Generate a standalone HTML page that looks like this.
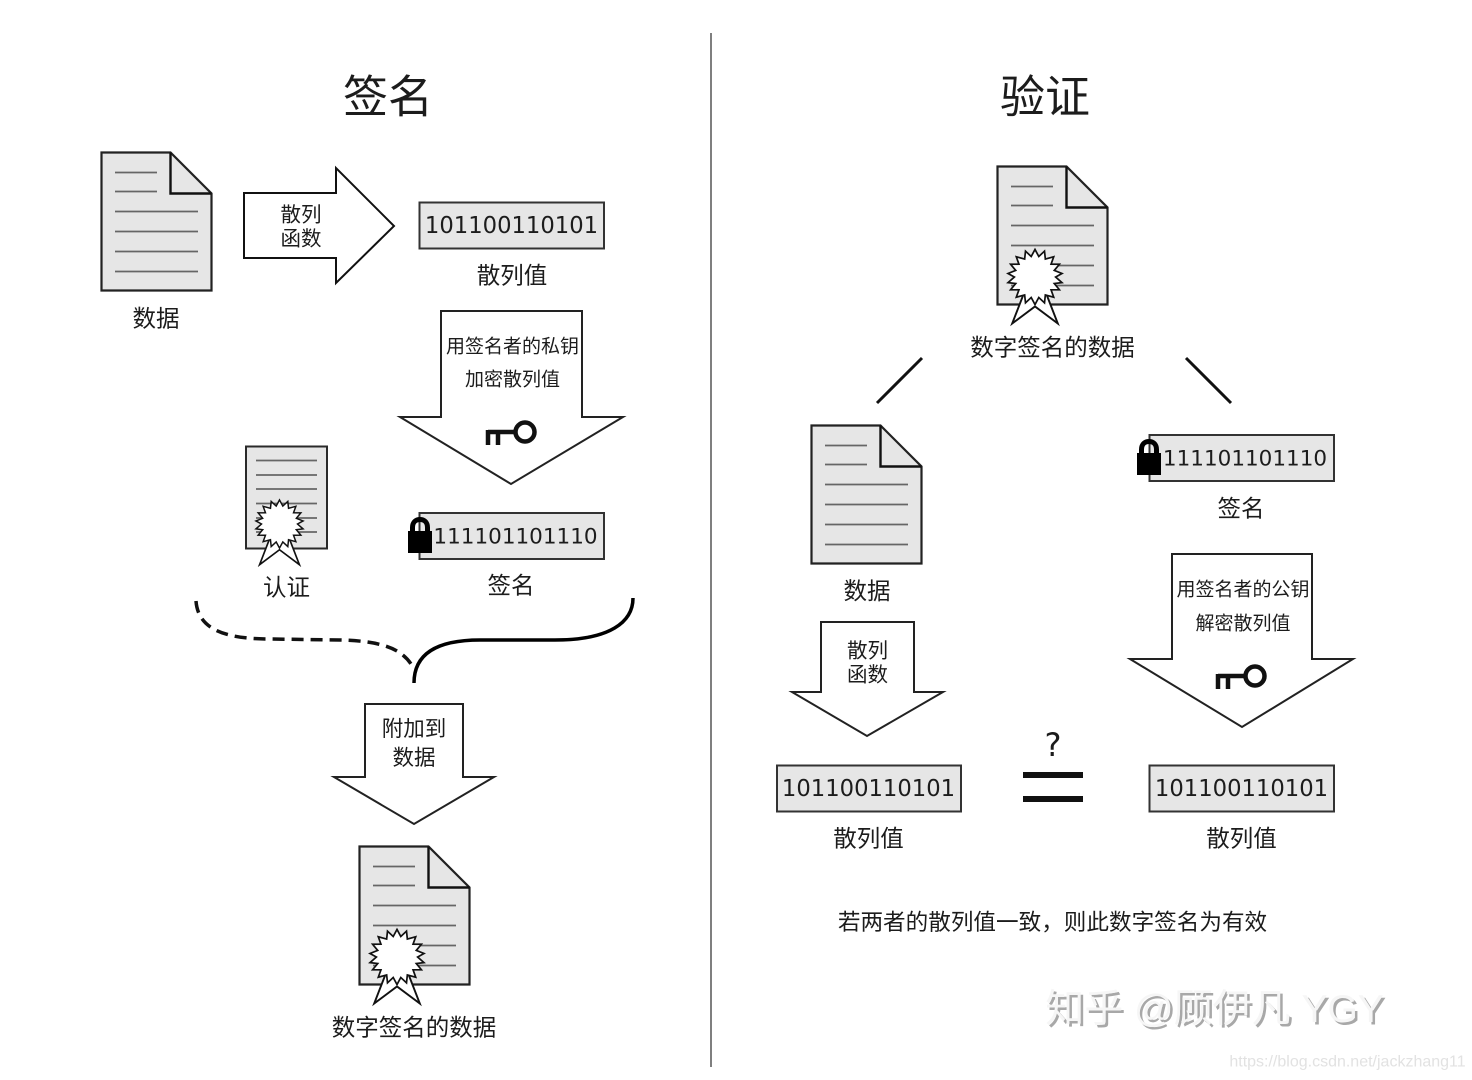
<!DOCTYPE html>
<html><head><meta charset="utf-8"><style>
html,body{margin:0;padding:0;background:#fff}
svg{display:block;filter:blur(.35px)}
text{font-family:"WenQuanYi Zen Hei","Noto Sans CJK SC",sans-serif;fill:#1c1c1c;text-anchor:middle;dominant-baseline:central}
.l{font-size:23.5px;transform:translateY(-1.5px)}
.s{font-size:20.5px;transform:translateY(-1.5px)}
.k{font-size:19px}
.n{font-family:"DejaVu Sans",sans-serif;font-size:22.7px;transform:translateY(1px)}
.m{font-family:"DejaVu Sans",sans-serif;font-size:21.5px;transform:translateY(1px)}
.t{font-size:45px;transform:translateY(-2px)}
</style></head><body>
<svg width="1472" height="1080" viewBox="0 0 1472 1080" xmlns="http://www.w3.org/2000/svg">
<defs>
<g id="doc">
<path d="M0.500 0.500H69.500L110.500 41.500V138.500H0.500Z" fill="#e6e6e6" stroke="#222" stroke-width="2.200"/>
<path d="M69.500 0.500V41.500H110.500" fill="none" stroke="#111" stroke-width="2.400"/>
<path d="M14 20.500H56M14 39.500H56M14 59.500H97M14 79.500H97M14 99.500H97M14 119.500H97" stroke="#666" stroke-width="1.800" fill="none"/>
</g>
<g id="seal">
<path d="M-12 18L-24 49L0 31L24 49L12 18Z" fill="#fff" stroke="#111" stroke-width="2" stroke-linejoin="miter"/>
<polygon fill="#fff" stroke="#111" stroke-width="1.800" points="0.000,-29.000 4.000,-21.600 10.000,-27.200 10.900,-18.900 19.700,-21.300 16.900,-13.500 25.700,-13.400 20.300,-6.900 28.400,-3.700 21.700,0.000 28.400,5.900 20.300,6.900 25.700,13.400 16.900,13.500 19.700,21.300 10.900,18.900 10.000,27.200 4.000,21.600 0.000,29.000 -4.000,21.600 -10.000,27.200 -10.900,18.900 -19.700,21.300 -16.900,13.500 -25.700,13.400 -20.300,6.900 -28.400,5.900 -21.700,0.000 -28.400,-3.700 -20.300,-6.900 -25.700,-13.400 -16.900,-13.500 -19.700,-21.300 -10.900,-18.900 -10.000,-27.200 -4.000,-21.600"/>
</g>
<g id="key" fill="none" stroke="#111" stroke-width="4.500">
<circle cx="0" cy="0" r="9.500"/>
<path d="M-10 0H-37M-37 -2V13M-27 0V13"/>
</g>
<g id="lock">
<rect x="0" y="14" width="24" height="22" fill="#000"/>
<path d="M4.500 16V10.500C4.500 5 8 2.500 12 2.500C16 2.500 19.500 5 19.500 10.500V16" fill="none" stroke="#000" stroke-width="5"/>
</g>
</defs>

<line x1="711" y1="33" x2="711" y2="1067" stroke="#555" stroke-width="1.500"/>
<text class="t" x="388" y="95">签名</text>
<text class="t" x="1045" y="95">验证</text>

<!-- left column -->
<use href="#doc" x="101" y="152"/>
<text class="l" x="156" y="318">数据</text>
<polygon points="244,193 336,193 336,168 394,226 336,283 336,258 244,258" fill="#fff" stroke="#111" stroke-width="2"/>
<text class="s" x="301" y="214">散列</text>
<text class="s" x="301" y="238">函数</text>
<rect x="419.500" y="202.500" width="184.500" height="46" fill="#e6e6e6" stroke="#333" stroke-width="2"/>
<text class="n" x="511.500" y="225">101100110101</text>
<text class="l" x="512" y="275">散列值</text>

<polygon points="441,311 582,311 582,417 623,417 511,484 400,417 441,417" fill="#fff" stroke="#222" stroke-width="2"/>
<text class="k" x="512.500" y="345">用签名者的私钥</text>
<text class="k" x="512.500" y="378">加密散列值</text>
<use href="#key" x="525" y="432"/>

<rect x="246" y="446.500" width="81" height="102" fill="#e6e6e6" stroke="#2a2a2a" stroke-width="2"/>
<path d="M256 460.500H317M256 475H317M256 489H317M256 503.500H317M256 518H317M256 532H317" stroke="#666" stroke-width="1.800"/>
<use href="#seal" transform="translate(279.500 524) scale(.83)"/>
<text class="l" x="286.500" y="587">认证</text>

<rect x="419.500" y="513" width="184.500" height="46" fill="#e6e6e6" stroke="#333" stroke-width="2"/>
<use href="#lock" x="408" y="517"/>
<text class="m" x="515.500" y="536">111101101110</text>
<text class="l" x="511" y="585">签名</text>

<path d="M196 601C198 628 222 639 270 639L340 640C385 641 403 650 413 667" fill="none" stroke="#111" stroke-width="3.500" stroke-dasharray="12 7"/>
<path d="M633 598C633 622 610 640 555 640L480 640C443 640 414 650 414 683" fill="none" stroke="#000" stroke-width="3.500"/>

<polygon points="365,704 463,704 463,777 494,777 414,824 334,777 365,777" fill="#fff" stroke="#222" stroke-width="2"/>
<text class="s" x="414" y="729" style="font-size:21.500px">附加到</text>
<text class="s" x="414" y="758" style="font-size:21.500px">数据</text>

<use href="#doc" x="359" y="846"/>
<use href="#seal" transform="translate(397 957) scale(.95)"/>
<text class="l" x="414" y="1027">数字签名的数据</text>

<!-- right column -->
<use href="#doc" x="997" y="166"/>
<use href="#seal" transform="translate(1035 277) scale(.95)"/>
<text class="l" x="1052.500" y="347">数字签名的数据</text>
<line x1="877" y1="403" x2="922" y2="358" stroke="#111" stroke-width="3"/>
<line x1="1186" y1="358" x2="1231" y2="403" stroke="#111" stroke-width="3"/>

<use href="#doc" x="811" y="425"/>
<text class="l" x="867" y="590.500">数据</text>

<rect x="1149.500" y="435" width="184.500" height="46" fill="#e6e6e6" stroke="#333" stroke-width="2"/>
<use href="#lock" x="1137" y="439"/>
<text class="m" x="1245" y="458">111101101110</text>
<text class="l" x="1241" y="508">签名</text>

<polygon points="821,622 914,622 914,692 943,692 867,736 792,692 821,692" fill="#fff" stroke="#222" stroke-width="2"/>
<text class="s" x="867.500" y="650">散列</text>
<text class="s" x="867.500" y="674">函数</text>

<polygon points="1172,554 1312,554 1312,659 1353,659 1242,727 1130,659 1172,659" fill="#fff" stroke="#222" stroke-width="2"/>
<text class="k" x="1243" y="588">用签名者的公钥</text>
<text class="k" x="1243" y="622">解密散列值</text>
<use href="#key" x="1255" y="676"/>

<rect x="777" y="765.500" width="184" height="46" fill="#e6e6e6" stroke="#333" stroke-width="2"/>
<text class="n" x="868.500" y="788">101100110101</text>
<text class="l" x="868.500" y="838">散列值</text>

<text x="1053" y="745" style="font-family:'DejaVu Sans',sans-serif;font-size:32px">?</text>
<rect x="1023" y="772" width="60" height="6" fill="#111"/>
<rect x="1023" y="796" width="60" height="6" fill="#111"/>

<rect x="1149.500" y="765.500" width="184.500" height="46" fill="#e6e6e6" stroke="#333" stroke-width="2"/>
<text class="n" x="1241.500" y="788">101100110101</text>
<text class="l" x="1241.500" y="838">散列值</text>

<text x="1052.500" y="920.500" style="font-size:22.600px">若两者的散列值一致&#xFF0C;则此数字签名为有效</text>

<!-- watermarks -->
<text x="1217" y="1012" style="font-family:'Liberation Sans','Noto Sans CJK SC',sans-serif;font-size:39px;font-weight:400;fill:#a8a8a8">知乎 @顾伊凡 YGY</text>
<text x="1214.500" y="1009.500" style="font-family:'Liberation Sans','Noto Sans CJK SC',sans-serif;font-size:39px;font-weight:400;fill:#f6f6f6">知乎 @顾伊凡 YGY</text>
<text x="1347.500" y="1062" style="font-family:'Liberation Sans',sans-serif;font-size:16px;fill:#e2e2e2">https://blog.csdn.net/jackzhang11</text>
</svg>
</body></html>
